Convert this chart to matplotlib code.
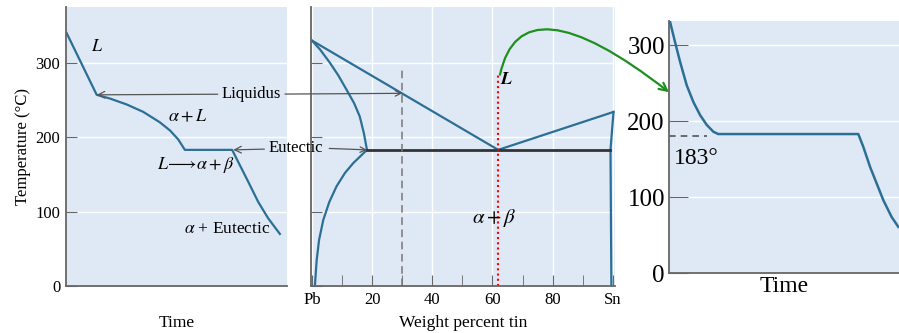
import numpy as np
import matplotlib
matplotlib.use('Agg')
import matplotlib.pyplot as plt
from matplotlib.patches import ConnectionPatch

plt.rcParams['font.family'] = ['Liberation Serif', 'DejaVu Serif']
plt.rcParams['mathtext.fontset'] = 'stix'

# cooling curve of the 30% Sn alloy (time in arbitrary units, temperature in C)
cool30_time = [0.3, 13.9, 19.9, 27.5, 35.0, 42.5, 47.1, 50.8, 53.8,
               75.2, 77.9, 82.5, 87.0, 91.5, 96.8]
cool30_temp = [340, 257, 252, 244, 234, 220, 209, 197, 183,
               183, 167, 140, 113, 91, 70]

# Pb-Sn phase diagram (weight percent tin, temperature in C)
liquidus_x = [0, 61.9, 100.2]
liquidus_T = [330, 183, 234]
solidus_a_x = [0, 2.7, 6, 8.8, 11.5, 14.0, 15.9, 17.3, 18.3]
solidus_a_T = [330, 318, 300, 283, 264, 246, 228, 205, 183]
solvus_a_x = [18.3, 13.7, 11.0, 8.2, 5.8, 3.8, 2.4, 1.6, 1.0]
solvus_a_T = [183, 165, 152, 134, 113, 89, 62, 35, 0]
beta_x = [100.2, 99.2, 99.5]
beta_T = [234, 183, 0]
eutectic_x = [18.3, 99.2]
eutectic_T = [183, 183]
alloy30_x = [30, 30]
alloy30_T = [0, 295]
eut_comp_x = [61.9, 61.9]
eut_comp_T = [0, 284]
xticks_pct = [0, 20, 40, 60, 80, 100]
xtick_labels = ['Pb', '20', '40', '60', '80', 'Sn']

# cooling curve of the eutectic alloy
cool_eut_time = [0.4, 2.6, 4.8, 7.7, 10.6, 13.5, 16.4, 19.3, 21.4,
                 82.3, 84.5, 87.4, 90.3, 93.2, 96.8, 99.7]
cool_eut_temp = [331, 304, 278, 247, 225, 208, 195, 186, 183,
                 183, 166, 140, 118, 96, 74, 61]

yticks = [0, 100, 200, 300]

bg = '#dfe9f5'
blue = '#2c6f96'
spine_c = '#666666'

fig = plt.figure(figsize=(8.99, 3.33), dpi=100)
ax1 = fig.add_axes([0.0734, 0.1411, 0.2458, 0.8378])
ax2 = fig.add_axes([0.3459, 0.1411, 0.3382, 0.8378])
ax3 = fig.add_axes([0.7442, 0.1793, 0.2558, 0.7586])
ax1.set_zorder(3)

for ax in (ax1, ax2, ax3):
    ax.set_facecolor(bg)
    for s in ('top', 'right'):
        ax.spines[s].set_visible(False)
    for s in ('left', 'bottom'):
        ax.spines[s].set_color(spine_c)
        ax.spines[s].set_linewidth(1.3)
    ax.set_yticks(yticks)
    ax.grid(True, axis='y', color='white', lw=1)

# ---- panel 1: cooling curve
ax1.plot(cool30_time, cool30_temp, color=blue, lw=1.6)
ax1.set_xlim(0, 100)
ax1.set_ylim(0, 375)
ax1.set_xticks([])
ax1.tick_params(axis='y', direction='in', length=8, color=spine_c, labelsize=12, pad=4)
ax1.set_ylabel('Temperature (°C)', fontsize=12, labelpad=3)
ax1.set_xlabel('Time', fontsize=12.5, labelpad=21)
ax1.text(14, 322, r'$L$', fontsize=13, ha='center', va='center')
ax1.text(55, 228, r'$\alpha + L$', fontsize=13, ha='center', va='center')
ax1.text(59, 163, r'$L\!\longrightarrow\!\alpha + \beta$', fontsize=13, ha='center', va='center')
ax1.text(73, 76, r'$\alpha$ + Eutectic', fontsize=12.5, ha='center', va='center')

arr = dict(arrowstyle='->', color='#555555', lw=0.9, shrinkA=1, shrinkB=0)
ax1.annotate('Liquidus', xy=(13.9, 257), xytext=(84, 258), fontsize=12,
             ha='center', va='center', arrowprops=arr)
ax1.annotate('', xy=(30, 259), xycoords=ax2.transData, xytext=(98.5, 258),
             textcoords='data', arrowprops=arr, annotation_clip=False)
ax1.annotate('Eutectic', xy=(75.7, 183), xytext=(104, 185), fontsize=12,
             ha='center', va='center', arrowprops=arr, annotation_clip=False)
ax1.annotate('', xy=(18.3, 183), xycoords=ax2.transData, xytext=(118.5, 185),
             textcoords='data', arrowprops=arr, annotation_clip=False)

# ---- panel 2: phase diagram
ax2.grid(True, axis='x', color='white', lw=1)
ax2.plot(liquidus_x, liquidus_T, color=blue, lw=1.6)
ax2.plot(solidus_a_x, solidus_a_T, color=blue, lw=1.6)
ax2.plot(solvus_a_x, solvus_a_T, color=blue, lw=1.6)
ax2.plot(beta_x, beta_T, color=blue, lw=1.6)
ax2.plot(eutectic_x, eutectic_T, color='#333333', lw=2)
ax2.plot(alloy30_x, alloy30_T, color='#777777', lw=1.1, ls=(0, (5, 3)))
ax2.plot(eut_comp_x, eut_comp_T, color='red', lw=1.5, ls=(0, (1, 1.5)))
ax2.set_xlim(-0.3, 100.7)
ax2.set_ylim(0, 375)
ax2.set_xticks(xticks_pct)
ax2.set_xticklabels(xtick_labels)
ax2.set_xticks(range(10, 100, 20), minor=True)
ax2.tick_params(axis='both', which='both', direction='in', length=8, color=spine_c,
                labelsize=12, pad=4)
ax2.tick_params(axis='y', labelleft=False)
ax2.set_xlabel('Weight percent tin', fontsize=12.5, labelpad=5)
ax2.text(64.5, 278, r'$\boldsymbol{L}$', fontsize=13, ha='center', va='center')
ax2.text(60.5, 92, r'$\alpha + \beta$', fontsize=15, ha='center', va='center')

# ---- panel 3: eutectic cooling curve
ax3.plot(cool_eut_time, cool_eut_temp, color=blue, lw=1.8)
ax3.plot([0, 16.5], [180, 180], color='#555555', lw=1.2, ls=(0, (4, 3)))
ax3.set_xlim(0, 100)
ax3.set_ylim(0, 332)
ax3.set_xticks([])
ax3.tick_params(axis='y', direction='in', length=14, color=spine_c, labelsize=18, pad=3)
ax3.set_xlabel('Time', fontsize=17, labelpad=2)
ax3.text(2, 165, '183°', fontsize=17, ha='left', va='top')

# green connector from the eutectic composition to the eutectic cooling curve
con = ConnectionPatch(xyA=(62.5, 284), coordsA=ax2.transData,
                      xyB=(0, 238), coordsB=ax3.transData,
                      arrowstyle='->', color='#1f8f1f', lw=1.6, mutation_scale=14,
                      connectionstyle='angle3,angleA=78,angleB=-38',
                      shrinkA=0, shrinkB=0)
fig.add_artist(con)

fig.savefig('out.png', dpi=100)
